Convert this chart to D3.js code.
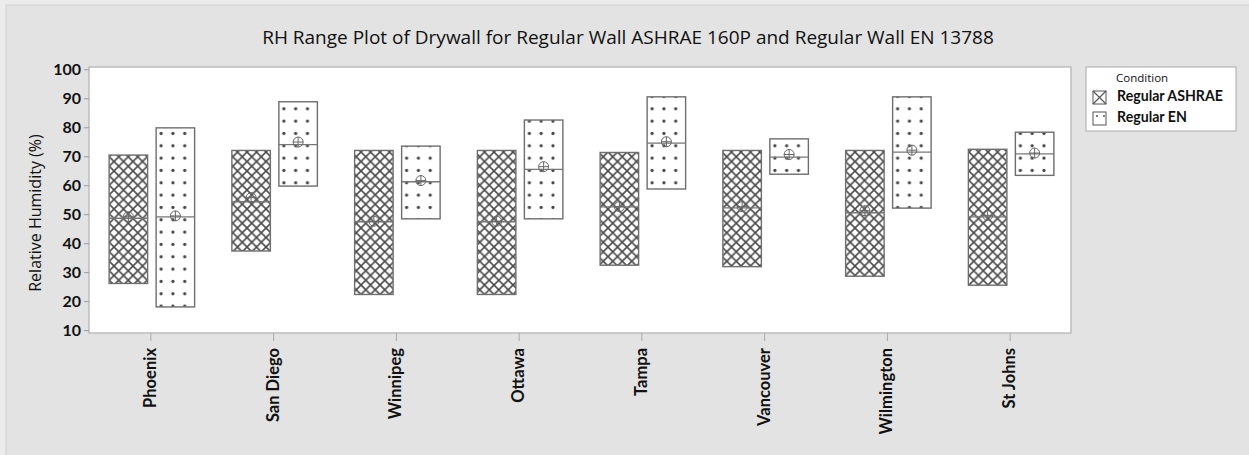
<!DOCTYPE html>
<html><head><meta charset="utf-8">
<script src="https://cdn.jsdelivr.net/npm/d3@7"></script>
<style>
html,body{margin:0;padding:0;background:#ececec;}
svg{display:block;}
</style></head>
<body>
<svg id="chart" width="1249" height="455"></svg>
<script>
const categories = ["Phoenix","San Diego","Winnipeg","Ottawa","Tampa","Vancouver","Wilmington","St Johns"];
const ashraeMin    = [26.1, 37.3, 22.3, 22.3, 32.4, 31.9, 28.6, 25.5];
const ashraeMax    = [70.4, 72.0, 72.0, 72.0, 71.3, 72.0, 72.0, 72.4];
const ashraeMedian = [48.6, 54.3, 47.4, 47.4, 52.5, 52.2, 50.5, 49.1];
const ashraeMean   = [49.1, 55.7, 47.6, 47.6, 52.6, 52.6, 51.2, 49.6];
const enMin        = [18.0, 59.7, 48.4, 48.4, 58.7, 63.8, 52.1, 63.4];
const enMax        = [79.8, 88.8, 73.5, 82.5, 90.5, 76.0, 90.5, 78.3];
const enMedian     = [49.1, 74.0, 61.2, 65.5, 74.5, 69.7, 71.4, 70.8];
const enMean       = [49.4, 74.9, 61.6, 66.4, 75.0, 70.6, 72.1, 71.1];
const yTicks = [10,20,30,40,50,60,70,80,90,100];
const seriesNames = ["Regular ASHRAE","Regular EN"];
const titleText = "RH Range Plot of Drywall for Regular Wall ASHRAE 160P and Regular Wall EN 13788";
const yTitle = "Relative Humidity (%)";
const legendTitle = "Condition";

const svg = d3.select("#chart");
const W = 1249, H = 455;
const M = {left: 89, top: 67, right: 1071, bottom: 333};

// background frame
svg.append("rect").attr("x",6).attr("y",5).attr("width",W).attr("height",H)
  .attr("fill","#e3e3e3").attr("stroke","#d2d2d2").attr("stroke-width",1);

const defs = svg.append("defs");
const hp = 9.5;
const hatch = defs.append("pattern").attr("id","hatch").attr("patternUnits","userSpaceOnUse")
  .attr("width",hp).attr("height",hp);
hatch.append("rect").attr("width",hp).attr("height",hp).attr("fill","#fff");
hatch.append("path").attr("d",`M0,0L${hp},${hp}M${hp},0L0,${hp}`)
  .attr("stroke","#4a4a4a").attr("stroke-width",1.6).attr("fill","none");

const x = d3.scalePoint().domain(categories).range([M.left, M.right]).padding(0.5);
const y = d3.scaleLinear().domain([9, 100.8]).range([M.bottom, M.top]);

// plot area
svg.append("rect").attr("x",M.left).attr("y",M.top).attr("width",M.right-M.left).attr("height",M.bottom-M.top)
  .attr("fill","#fff").attr("stroke","#bdbdbd").attr("stroke-width",1.5);

// title
svg.append("text").attr("x",628).attr("y",44).attr("text-anchor","middle")
  .attr("font-family","Open Sans").attr("font-size",19).attr("fill","#111").text(titleText);

// y axis
const yAxis = d3.axisLeft(y).tickValues(yTicks).tickSize(5).tickPadding(3);
const gy = svg.append("g").attr("transform",`translate(${M.left},0)`).call(yAxis);
gy.select(".domain").remove();
gy.selectAll(".tick line").attr("stroke","#999");
gy.selectAll(".tick text").attr("font-family","Lato").attr("font-weight","bold").attr("font-size",16).attr("fill","#111");

svg.append("text").attr("transform",`translate(41,213) rotate(-90)`)
  .attr("text-anchor","middle").attr("font-family","Open Sans").attr("font-size",16).attr("fill","#111").text(yTitle);

// x axis
const xAxis = d3.axisBottom(x).tickSize(8).tickFormat("");
const gx = svg.append("g").attr("transform",`translate(0,${M.bottom})`).call(xAxis);
gx.select(".domain").remove();
gx.selectAll(".tick line").attr("stroke","#aaa");
svg.selectAll(".xlab").data(categories).join("text").attr("class","xlab")
  .attr("transform",d=>`translate(${x(d)+5.5},348) rotate(-90)`)
  .attr("text-anchor","end").attr("font-family","Lato").attr("font-weight","bold").attr("font-size",16.5)
  .attr("fill","#111").text(d=>d);

// data
const bw = 38.5;
const offsets = [-22, 25];
const groups = [
  categories.map((c,i)=>({c,i,s:0,min:ashraeMin[i],max:ashraeMax[i],med:ashraeMedian[i],mean:ashraeMean[i]})),
  categories.map((c,i)=>({c,i,s:1,min:enMin[i],max:enMax[i],med:enMedian[i],mean:enMean[i]}))
];
const all = groups[0].concat(groups[1]);
const cx = d => x(d.c) + offsets[d.s];

// dot patterns per EN box
groups[1].forEach(d=>{
  const p = defs.append("pattern").attr("id","dots"+d.i).attr("patternUnits","userSpaceOnUse")
    .attr("x", cx(d)-bw/2 + 5 - 5.9).attr("y", 4).attr("width",11.8).attr("height",12.33);
  p.append("rect").attr("width",11.8).attr("height",12.33).attr("fill","#fff");
  p.append("circle").attr("cx",5.9).attr("cy",6.16).attr("r",1.6).attr("fill","#444");
});

svg.selectAll(".box").data(all).join("rect").attr("class","box")
  .attr("x",d=>cx(d)-bw/2).attr("y",d=>y(d.max)).attr("width",bw).attr("height",d=>y(d.min)-y(d.max))
  .attr("fill",d=>d.s===0?"url(#hatch)":`url(#dots${d.i})`).attr("stroke","#6e6e6e").attr("stroke-width",1.4);

svg.selectAll(".med").data(all).join("line").attr("class","med")
  .attr("x1",d=>cx(d)-bw/2).attr("x2",d=>cx(d)+bw/2).attr("y1",d=>y(d.med)).attr("y2",d=>y(d.med))
  .attr("stroke","#777").attr("stroke-width",1.3);

const mg = svg.selectAll(".mean").data(all).join("g").attr("class","mean")
  .attr("transform",d=>`translate(${cx(d)},${y(d.mean)})`);
mg.append("circle").attr("r",5).attr("fill","none").attr("stroke","#666").attr("stroke-width",1);
mg.append("path").attr("d","M-5,0H5M0,-5V5").attr("stroke","#666").attr("stroke-width",1);

// legend
const lg = svg.append("g");
lg.append("rect").attr("x",1086).attr("y",67).attr("width",150).attr("height",64)
  .attr("fill","#fff").attr("stroke","#aaa").attr("stroke-width",1);
lg.append("text").attr("x",1116).attr("y",82).attr("font-family","Open Sans").attr("font-size",11.5).attr("fill","#111").text(legendTitle);
const legTexts = [];
seriesNames.forEach((n,k)=>{
  const yy = 101 + k*21;
  const t = lg.append("text").attr("x",1117).attr("y",yy).attr("font-family","Lato").attr("font-weight","bold")
    .attr("font-size",16).attr("fill","#111").text(n);
  legTexts.push(t);
  const sx = 1093, sy = yy-10, s = 13;
  lg.append("rect").attr("x",sx).attr("y",sy).attr("width",s).attr("height",s).attr("fill","#fff").attr("stroke","#555").attr("stroke-width",1);
  if(k===0){
    lg.append("path").attr("d",`M${sx},${sy}L${sx+s},${sy+s}M${sx+s},${sy}L${sx},${sy+s}`).attr("stroke","#555").attr("stroke-width",1.2);
  } else {
    lg.append("circle").attr("cx",sx+4).attr("cy",sy+4).attr("r",1).attr("fill","#555");
    lg.append("circle").attr("cx",sx+s-2).attr("cy",sy+4).attr("r",1).attr("fill","#555");
  }
});
// fit legend label size so the longest label is ~106px wide
const w0 = legTexts[0].node().getComputedTextLength();
if (w0 > 0) {
  const fs = Math.max(13, Math.min(18, 16 * 106 / w0));
  legTexts.forEach(t => t.attr("font-size", fs));
}
</script>
</body></html>
